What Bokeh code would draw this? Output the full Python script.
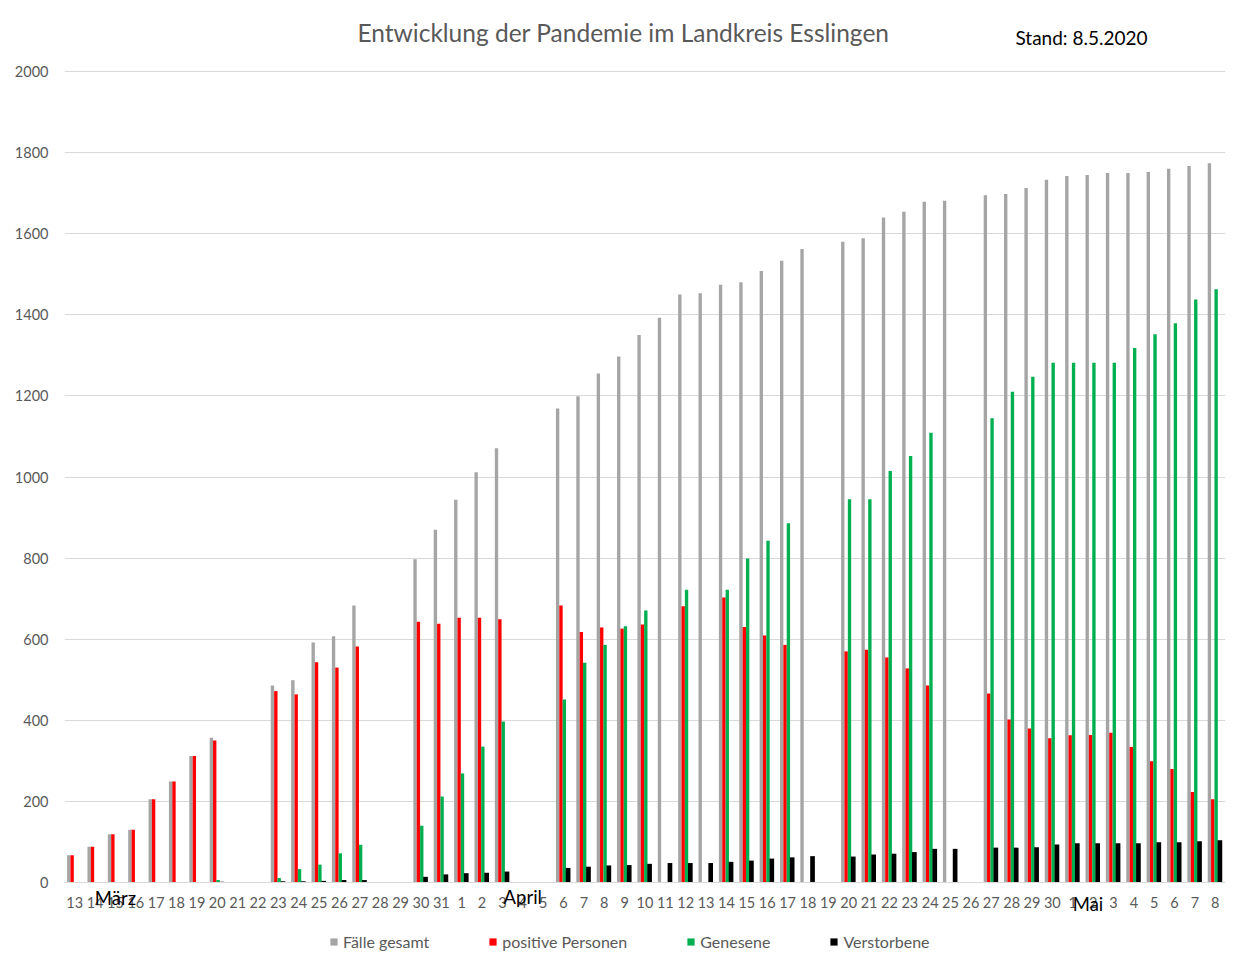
from bokeh.plotting import figure
from bokeh.models import (Range1d, Legend, LegendItem, Label,
                          FixedTicker, ColumnDataSource)
from bokeh.transform import dodge
from bokeh.embed import file_html
from bokeh.resources import INLINE

N = None

# ---- data -------------------------------------------------------------
months = ["März"] * 19 + ["April"] * 30 + ["Mai"] * 8
days = ([str(d) for d in range(13, 32)] + [str(d) for d in range(1, 31)]
        + [str(d) for d in range(1, 9)])

faelle_gesamt = [
    67, 88, 119, 130, 205, 249, 312, 357, N, N, 486, 499, 592, 607, 683, N, N, 797, 870,
    944, 1012, 1071, N, N, 1169, 1199, 1255, 1297, 1350, 1393, 1450, 1453, 1474, 1480,
    1508, 1533, 1562, N, 1580, 1589, 1640, 1654, 1679, 1681, N, 1695, 1698, 1713, 1733,
    1742, 1745, 1750, 1750, 1752, 1760, 1767, 1774,
]
positive_personen = [
    67, 88, 119, 130, 205, 249, 312, 350, N, N, 472, 464, 543, 530, 582, N, N, 643, 638,
    653, 653, 649, N, N, 683, 618, 629, 626, 636, N, 681, N, 703, 630,
    609, 586, N, N, 570, 574, 555, 528, 486, N, N, 466, 402, 380, 356,
    363, 364, 369, 334, 299, 280, 223, 205,
]
genesene = [
    0, 0, 0, 0, 0, 0, 0, 6, N, N, 11, 33, 44, 72, 93, N, N, 140, 212,
    269, 335, 397, N, N, 451, 542, 586, 632, 671, N, 722, N, 722, 799,
    843, 886, N, N, 945, 945, 1015, 1052, 1109, N, N, 1145, 1210, 1247, 1282,
    1282, 1282, 1282, 1318, 1352, 1379, 1438, 1463,
]
verstorbene = [
    1, 1, 1, 1, 1, 1, 1, 2, N, N, 3, 3, 4, 6, 6, N, N, 14, 20,
    23, 24, 27, N, N, 36, 39, 42, 43, 46, 48, 48, 48, 51, 54,
    59, 62, 65, N, 64, 69, 71, 75, 83, 83, N, 86, 86, 87, 94,
    97, 97, 97, 97, 99, 99, 102, 104,
]
series_names = ["Fälle gesamt", "positive Personen", "Genesene", "Verstorbene"]
series_colors = ["#a5a5a5", "#ff0000", "#00b050", "#000000"]

title_text = "Entwicklung der Pandemie im Landkreis Esslingen"
stand_text = "Stand: 8.5.2020"
y_max = 2000
y_ticks_interval = 200

# ---- layout constants (pixels) ------------------------------------------
W, H = 1230, 955
LEFT, RIGHT = 64, 5
Y_TOP_PX, Y_ZERO_PX = 71, 882          # pixel rows of y=2000 and y=0
ppu = (Y_ZERO_PX - Y_TOP_PX) / y_max    # pixels per unit
y_hi = y_max + Y_TOP_PX / ppu
y_lo = -(H - Y_ZERO_PX) / ppu
ppx = (W - LEFT - RIGHT) / len(days)    # pixels per category

def data_y(px):
    return (Y_ZERO_PX - px) / ppu

def data_x(px):
    return (px - LEFT) / ppx - 0.5

# ---- build ------------------------------------------------------------
idx = list(range(len(days)))

FONT = "Lato"
TXT = "#595959"

p = figure(width=W, height=H, x_range=Range1d(-0.5, len(days) - 0.5),
           y_range=Range1d(y_lo, y_hi), output_backend="svg", toolbar_location=None,
           min_border_left=LEFT, min_border_right=RIGHT, min_border_top=0,
           min_border_bottom=0)
p.outline_line_color = None
p.background_fill_color = "white"
p.border_fill_color = "white"

offsets = [-0.29, -0.125, 0.04, 0.225]
widths = [0.165, 0.165, 0.165, 0.23]
series = [faelle_gesamt, positive_personen, genesene, verstorbene]
renderers = []
for vals, off, w, c in zip(series, offsets, widths, series_colors):
    xs = [i for i, v in zip(idx, vals) if v is not None]
    ts = [v for v in vals if v is not None]
    src = ColumnDataSource(dict(x=xs, top=ts))
    r = p.vbar(x=dodge("x", off), top="top", bottom=0, width=w, source=src,
               fill_color=c, line_color=None)
    renderers.append(r)

# axes
yticks = list(range(0, y_max + 1, y_ticks_interval))
p.xgrid.grid_line_color = None
p.ygrid.grid_line_color = "#d9d9d9"
p.ygrid.grid_line_width = 1
p.yaxis.ticker = FixedTicker(ticks=yticks)
p.yaxis.axis_line_color = None
p.yaxis.major_tick_line_color = None
p.yaxis.minor_tick_line_color = None
p.yaxis.major_tick_out = 0
p.yaxis.major_tick_in = 0
p.yaxis.major_label_standoff = 16
p.yaxis.major_label_text_font = FONT
p.yaxis.major_label_text_font_size = "14.5px"
p.yaxis.major_label_text_color = TXT

p.xaxis.fixed_location = 0
p.xaxis.ticker = FixedTicker(ticks=idx)
p.xaxis.axis_line_color = "#d9d9d9"
p.xaxis.major_tick_line_color = None
p.xaxis.minor_tick_line_color = None
p.xaxis.major_tick_out = 0
p.xaxis.major_tick_in = 0
p.xaxis.major_label_standoff = 14
p.xaxis.major_label_text_font = FONT
p.xaxis.major_label_text_font_size = "14.5px"
p.xaxis.major_label_text_color = TXT
p.xaxis.major_label_overrides = {i: d for i, d in zip(idx, days)}

# month labels
month_pos = {"März": (days.index("15"), data_y(897)),
             "April": (19 + days[19:].index("4"), data_y(896)),
             "Mai": (49 + days[49:].index("2") - 0.25, data_y(903))}
for m, (xx, yy) in month_pos.items():
    p.add_layout(Label(x=xx, y=yy, text=m, text_font=FONT, text_font_size="18.5px",
                       text_color="black", text_align="center",
                       text_baseline="middle"))

# title & date
p.add_layout(Label(x=data_x(623), y=data_y(32), text=title_text, text_font=FONT,
                   text_font_size="24.5px", text_color=TXT, text_align="center",
                   text_baseline="middle"))
p.add_layout(Label(x=data_x(1081), y=data_y(37), text=stand_text, text_font=FONT,
                   text_font_size="19px", text_color="black", text_align="center",
                   text_baseline="middle"))

legend = Legend(items=[LegendItem(label=n, renderers=[r])
                       for n, r in zip(series_names, renderers)],
                orientation="horizontal", location=(331 - LEFT - 2, 4),
                glyph_width=9, glyph_height=9, label_standoff=5, spacing=59,
                padding=2, label_text_font=FONT, label_text_font_size="16px",
                label_text_color=TXT, border_line_color=None,
                background_fill_alpha=0, margin=0)
p.add_layout(legend, "center")

open("out.html", "w").write(file_html(p, INLINE))
